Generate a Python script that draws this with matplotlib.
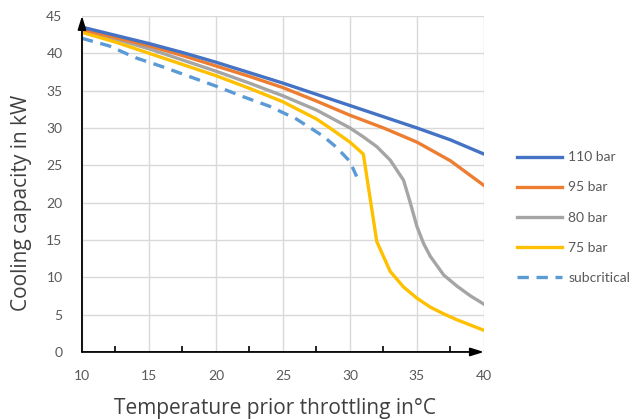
import matplotlib.pyplot as plt
import numpy as np

plt.rcParams['font.family'] = ['Lato', 'DejaVu Sans']

# temperature prior throttling (°C) and cooling capacity (kW)
t_110 = [10, 12.5, 15, 17.5, 20, 22.5, 25, 27.5, 30, 32.5, 35, 37.5, 40]
q_110 = [43.5, 42.4, 41.3, 40.1, 38.8, 37.4, 36.0, 34.5, 33.0, 31.5, 30.0, 28.4, 26.5]

t_95 = [10, 12.5, 15, 17.5, 20, 22.5, 25, 27.5, 30, 32.5, 35, 37.5, 40]
q_95 = [43.2, 42.1, 41.0, 39.7, 38.3, 36.9, 35.4, 33.6, 31.7, 30.0, 28.1, 25.6, 22.3]

t_80 = [10, 12.5, 15, 17.5, 20, 22.5, 25, 27.5, 30, 31, 32, 33, 34, 34.5, 35, 35.5, 36, 37, 38, 39, 40]
q_80 = [43.0, 41.9, 40.6, 39.1, 37.6, 36.0, 34.3, 32.4, 30.0, 28.8, 27.5, 25.7, 23.0, 20.0,
        16.8, 14.5, 12.8, 10.3, 8.8, 7.5, 6.4]

t_75 = [10, 12.5, 15, 17.5, 20, 22.5, 25, 27.5, 28.5, 30, 31, 32, 33, 34, 35, 36, 37, 38, 39, 40]
q_75 = [42.8, 41.5, 40.0, 38.5, 37.0, 35.3, 33.5, 31.2, 30.0, 28.1, 26.5, 14.8, 10.8, 8.7,
        7.2, 6.0, 5.1, 4.3, 3.6, 2.9]

t_sub = [10, 12, 14, 16, 18, 20, 22, 24, 26, 28, 29, 30, 30.5]
q_sub = [42.0, 41.0, 39.4, 38.2, 36.9, 35.6, 34.2, 32.9, 31.2, 28.9, 27.4, 25.5, 23.5]

fig = plt.figure(figsize=(6.33, 4.19), dpi=100)
ax = fig.add_axes([0.1295, 0.160, 0.635, 0.802])

lw = 2.4
ax.plot(t_110, q_110, color='#4472C4', lw=lw, label='110 bar', zorder=5)
ax.plot(t_95, q_95, color='#ED7D31', lw=lw, label='95 bar', zorder=4)
ax.plot(t_80, q_80, color='#A5A5A5', lw=lw, label='80 bar', zorder=3)
ax.plot(t_75, q_75, color='#FFC000', lw=lw, label='75 bar', zorder=3)
ax.plot(t_sub, q_sub, color='#5B9BD5', lw=lw, ls=(0, (3.4, 2.3)), label='subcritical', zorder=3)

ax.set_xlim(10, 40)
ax.set_ylim(0, 45)
ax.set_xticks(np.arange(10, 41, 5))
ax.set_yticks(np.arange(0, 46, 5))
ax.set_xticks(np.arange(12.5, 40.1, 5).tolist() + [40], minor=True)
ax.grid(True, color='#D9D9D9', lw=1)
ax.set_axisbelow(True)

for s in ax.spines.values():
    s.set_visible(False)

ax.tick_params(axis='both', which='major', length=0, labelsize=10, labelcolor='#595959')
ax.tick_params(axis='x', which='major', pad=13)
ax.tick_params(axis='y', which='major', pad=14)
ax.tick_params(axis='x', which='minor', direction='in', length=4, width=1.2, color='black')

# axis lines with arrow heads
ax.annotate('', xy=(0, 1.0), xytext=(0, 0), xycoords='axes fraction',
            arrowprops=dict(arrowstyle='-|>,head_length=0.8,head_width=0.25', color='black', lw=1.3,
                            shrinkA=0, shrinkB=0), zorder=10)
ax.annotate('', xy=(1.0, 0), xytext=(0, 0), xycoords='axes fraction',
            arrowprops=dict(arrowstyle='-|>,head_length=0.8,head_width=0.25', color='black', lw=1.3,
                            shrinkA=0, shrinkB=0), zorder=10)

fig.text(275 / 633, 1 - 408 / 419, 'Temperature prior throttling in°C', fontsize=15, color='#404040',
         family=['Open Sans', 'DejaVu Sans'], ha='center', va='center')
fig.text(22 / 633, 1 - 203 / 419, 'Cooling capacity in kW', fontsize=15, color='#404040',
         family=['Open Sans', 'DejaVu Sans'], ha='center', va='center', rotation=90)

leg = ax.legend(loc='center left', bbox_to_anchor=(1.068, 0.40), frameon=False,
                fontsize=10, handlelength=3.25, handletextpad=0.45, labelspacing=1.3,
                borderaxespad=0)
for t in leg.get_texts():
    t.set_color('#595959')

fig.savefig('out.png', dpi=100)
